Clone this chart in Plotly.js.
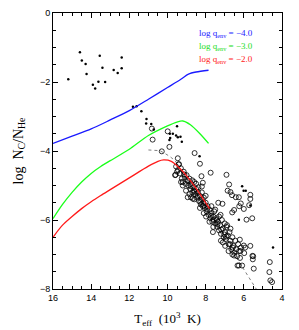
<!DOCTYPE html>
<html><head><meta charset="utf-8">
<script src="https://cdn.plot.ly/plotly-3.0.1.min.js"></script>
<style>html,body{margin:0;padding:0;background:#fff}#c{width:299px;height:330px}</style>
</head><body><div id="c"></div>
<script>
// model curves (Teff in 10^3 K, log N_C/N_He)
var blueT = [16, 15, 14, 13, 12, 11, 10, 9.3, 8.9, 8.5, 7.85];
var blueV = [-3.78, -3.57, -3.36, -3.1, -2.83, -2.5, -2.16, -1.92, -1.77, -1.71, -1.66];
var greenT = [16, 15.5, 15, 14.5, 14, 13.5, 13, 12, 11, 10, 9.5, 9.2, 8.8, 8.3, 7.85];
var greenV = [-5.96, -5.55, -5.2, -4.9, -4.65, -4.45, -4.28, -3.95, -3.55, -3.27, -3.16, -3.13, -3.24, -3.5, -3.78];
var redT = [16, 15.5, 15, 14.5, 14, 13.5, 13, 12, 11, 10.5, 10.2, 9.8, 9.4, 9, 8.5, 8, 7.8];
var redV = [-6.5, -6.15, -5.9, -5.67, -5.47, -5.29, -5.12, -4.78, -4.44, -4.3, -4.26, -4.3, -4.48, -4.72, -5.08, -5.5, -5.67];
var dottedT = [11.0, 10.4, 10.2, 9.9, 9.6, 5.35];
var dottedV = [-3.97, -3.99, -4.05, -4.15, -4.28, -8.0];

// small filled dots
var dotT = [15.2, 14.59, 14.49, 14.29, 14.24, 13.91, 13.79, 13.62, 13.55, 13.41, 13.27, 12.82, 12.61, 12.4, 12.4,
  11.81, 11.62, 11.37, 11.1, 11.12, 10.85, 10.72, 9.5, 9.88, 9.72, 9.55, 9.46, 9.32, 9.86, 9.9, 9.25, 8.32,
  6.09, 6.01, 5.9, 5.66, 6.26, 4.47];
var dotV = [-1.92, -1.14, -1.38, -1.48, -1.77, -2.08, -2.19, -1.99, -1.24, -1.59, -2.0, -1.65, -1.74, -1.29, -1.6,
  -2.72, -2.70, -2.85, -3.07, -3.2, -3.22, -3.38, -3.28, -3.5, -3.5, -3.55, -3.6, -3.59, -3.62, -3.68, -3.73, -4.15,
  -5.02, -5.15, -5.15, -5.58, -5.99, -6.8];

// open circles
var circT = [10.82, 10.78, 9.99, 9.9, 10.3, 9.46, 9.41, 9.58, 8.58, 8.3, 7.74, 6.91, 8.22, 8.15, 8.2,
  6.77, 6.85, 6.7, 6.62, 7.34, 7.12, 6.42, 6.26, 6.16, 6.24, 6.0, 5.66, 5.66, 5.72, 6.61, 5.86, 5.56,
  6.21, 6.0, 5.93, 5.66, 6.18, 5.98, 5.55, 5.51, 5.53, 5.48, 6.26, 6.09, 4.64, 4.66, 4.61, 4.52, 6.51, 6.33, 6.51,
  9.55, 9.45, 9.6, 9.3, 9.35, 9.25, 9.15, 9.1, 9.2, 9.05, 9.0, 8.95, 9.4, 9.5, 9.29, 9.2, 9.03, 8.94, 8.77, 8.68,
  8.9, 8.85, 8.8, 8.75, 8.7, 8.65, 8.6, 8.55, 8.5, 8.45, 8.4, 8.85, 8.6, 8.7, 8.5, 8.38, 8.62,
  8.35, 8.3, 8.25, 8.2, 8.15, 8.1, 8.05, 8.0, 7.95, 7.9, 8.3, 8.1, 8.2, 8.0, 8.12, 7.98,
  7.85, 7.8, 7.75, 7.7, 7.65, 7.6, 7.55, 7.5, 7.45, 7.4, 7.8, 7.6, 7.7, 7.5, 7.62, 7.42,
  7.35, 7.3, 7.25, 7.2, 7.15, 7.1, 7.05, 7.0, 6.95, 6.9, 7.3, 7.2, 7.0, 7.1, 7.22, 6.98,
  6.85, 6.8, 6.75, 6.7, 6.65, 6.6, 6.55, 6.5, 6.45, 6.6, 6.8, 6.7, 6.4, 6.88,
  6.35, 6.3, 6.25, 6.2, 6.15,
  9.12, 8.92, 8.78, 8.58, 8.42, 8.28, 8.08, 7.92, 7.72, 7.58, 7.38, 7.18, 7.02, 6.92, 6.72, 6.58];
var circV = [-3.35, -3.67, -3.43, -3.88, -4.01, -4.21, -4.39, -4.69, -4.06, -4.37, -4.63, -4.69, -4.73, -4.92, -5.03,
  -4.97, -5.15, -5.19, -5.28, -5.5, -5.53, -5.34, -5.34, -5.52, -5.6, -5.68, -5.27, -5.39, -5.57, -5.78, -5.99, -5.95,
  -6.57, -6.74, -6.8, -6.75, -6.9, -6.96, -7.04, -7.05, -7.14, -7.41, -7.32, -7.32, -7.22, -7.51, -7.75, -7.8, -7.03, -7.32, -5.71,
  -4.45, -4.55, -4.7, -4.5, -4.65, -4.8, -4.6, -4.75, -4.9, -4.95, -4.7, -4.85, -4.38, -4.6, -4.9, -5.0, -5.15, -5.34, -5.34, -5.38,
  -5.0, -4.8, -5.1, -4.95, -5.2, -5.05, -4.9, -5.25, -5.1, -5.35, -5.2, -5.25, -5.4, -4.85, -4.95, -5.05, -5.15,
  -5.45, -5.3, -5.55, -5.4, -5.6, -5.35, -5.65, -5.5, -5.75, -5.6, -5.65, -5.8, -5.2, -5.3, -5.5, -5.9,
  -5.85, -5.7, -5.95, -5.8, -6.05, -5.9, -5.75, -6.1, -5.95, -6.2, -6.05, -6.2, -5.6, -5.7, -6.35, -6.0,
  -6.05, -6.3, -6.15, -6.4, -6.0, -6.25, -6.5, -6.35, -6.55, -6.2, -5.9, -6.6, -6.1, -6.65, -5.85, -6.75,
  -6.45, -6.7, -6.35, -6.6, -6.85, -6.5, -6.75, -6.95, -6.6, -7.0, -6.9, -6.25, -6.85, -6.15,
  -7.05, -6.7, -6.9, -7.1, -6.8,
  -4.68, -4.88, -5.02, -5.18, -5.3, -5.48, -5.58, -5.68, -5.88, -6.0, -6.12, -6.28, -6.42, -6.48, -6.7, -6.8];

var serif = "Liberation Serif, Times New Roman, serif";
var sans = "Liberation Sans, Arial, sans-serif";

var traces = [
  {x: dottedT, y: dottedV, mode: 'lines', line: {color: '#808080', width: 1, dash: 'dot'}, hoverinfo: 'skip'},
  {x: circT, y: circV, mode: 'markers', marker: {symbol: 'circle-open', size: 5, color: '#000', line: {width: 0.8, color: '#000'}}},
  {x: dotT, y: dotV, mode: 'markers', marker: {symbol: 'circle', size: 2.5, color: '#000'}},
  {x: blueT, y: blueV, mode: 'lines', line: {color: '#1a1aff', width: 1.3, shape: 'spline', smoothing: 0.8}},
  {x: greenT, y: greenV, mode: 'lines', line: {color: '#1aff1a', width: 1.3, shape: 'spline', smoothing: 0.8}},
  {x: redT, y: redV, mode: 'lines', line: {color: '#ff1a1a', width: 1.3, shape: 'spline', smoothing: 0.8}}
];

var axisCommon = {
  showline: true, linecolor: '#000', linewidth: 1, mirror: 'allticks',
  ticks: 'inside', ticklen: 5, tickcolor: '#000', tickwidth: 1,
  showgrid: false, zeroline: false,
  tickfont: {family: sans, size: 9, color: '#000'},
  minor: {ticks: 'inside', ticklen: 3, tickcolor: '#000', dtick: 0.5, showgrid: false}
};

var layout = {
  width: 299, height: 330,
  margin: {l: 53, r: 17, t: 13, b: 41},
  showlegend: false,
  paper_bgcolor: '#fff', plot_bgcolor: '#fff',
  xaxis: Object.assign({}, axisCommon, {
    range: [16, 4], dtick: 2, tick0: 4,
    title: {text: 'T<sub>eff</sub>  (10<sup>3</sup>  K)', font: {family: serif, size: 13, color: '#000'}, standoff: 12}
  }),
  yaxis: Object.assign({}, axisCommon, {
    range: [-8, 0], dtick: 2, tick0: 0,
    title: {text: 'log  N<sub>C</sub>/N<sub>He</sub>', font: {family: serif, size: 14, color: '#000'}, standoff: 13}
  }),
  annotations: [
    {x: 8.45, y: -0.58, xref: 'x', yref: 'y', xanchor: 'left', yanchor: 'middle', showarrow: false,
     text: 'log q<sub>env</sub> = −4.0', font: {family: serif, size: 9, color: '#1a1aff'}},
    {x: 8.45, y: -0.96, xref: 'x', yref: 'y', xanchor: 'left', yanchor: 'middle', showarrow: false,
     text: 'log q<sub>env</sub> = −3.0', font: {family: serif, size: 9, color: '#22dd22'}},
    {x: 8.45, y: -1.34, xref: 'x', yref: 'y', xanchor: 'left', yanchor: 'middle', showarrow: false,
     text: 'log q<sub>env</sub> = −2.0', font: {family: serif, size: 9, color: '#ff1a1a'}}
  ]
};

Plotly.newPlot('c', traces, layout, {displayModeBar: false, staticPlot: true});
</script>
</body></html>
